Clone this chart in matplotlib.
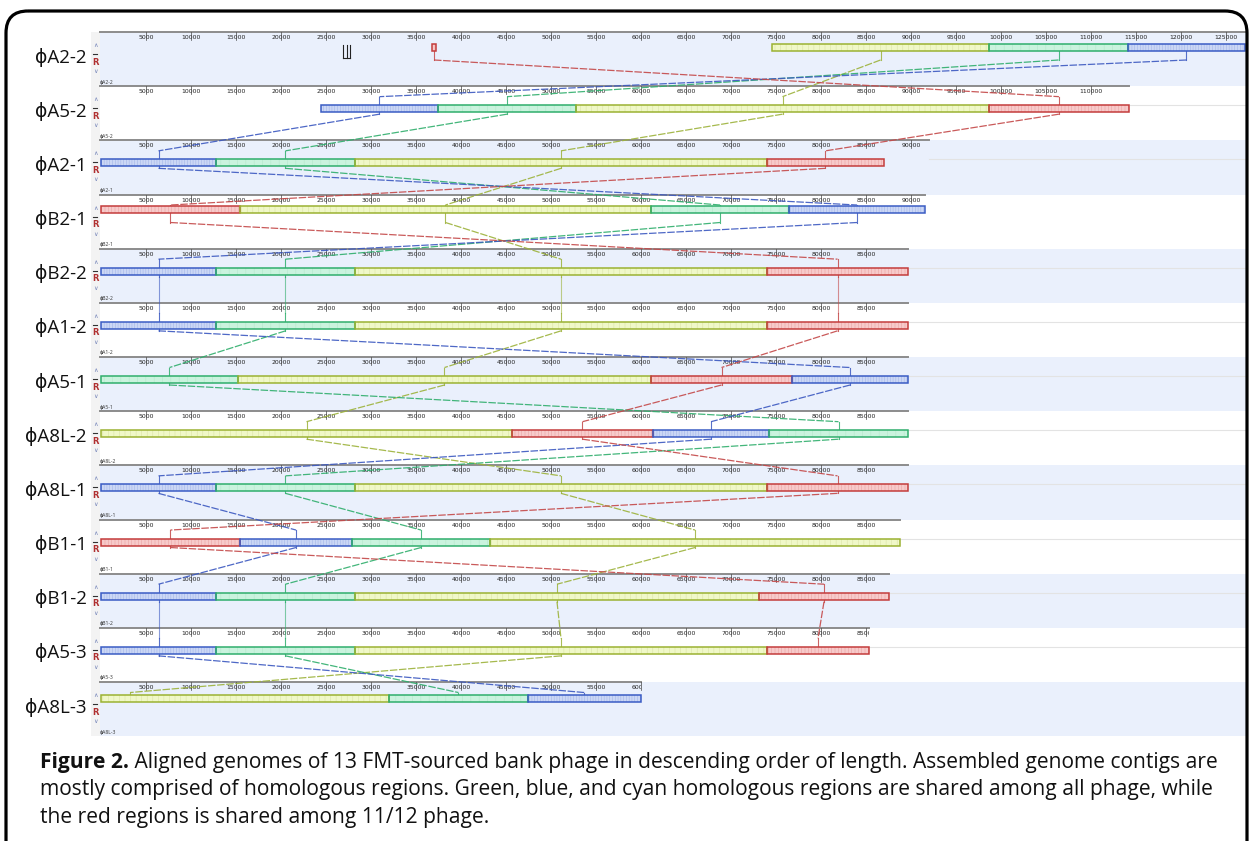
import matplotlib.pyplot as plt
from matplotlib.patches import Rectangle, FancyBboxPatch

# genomes, in the order they are stacked (longest first)
phages = ['ϕA2-2', 'ϕA5-2', 'ϕA2-1', 'ϕB2-1', 'ϕB2-2', 'ϕA1-2', 'ϕA5-1',
          'ϕA8L-2', 'ϕA8L-1', 'ϕB1-1', 'ϕB1-2', 'ϕA5-3', 'ϕA8L-3']
genome_len = [127100, 114200, 92000, 91560, 89670, 89670, 89670,
              89670, 89670, 88780, 87560, 85330, 60000]

# locally collinear blocks per genome: (lcb, start bp, end bp)
blocks = [
    [('R', 36800, 37200), ('Y', 74560, 98670), ('G', 98670, 114110), ('B', 114110, 127100)],
    [('B', 24440, 37440), ('G', 37440, 52780), ('Y', 52780, 98670), ('R', 98670, 114200)],
    [('B', 0, 12780), ('G', 12780, 28220), ('Y', 28220, 74000), ('R', 74000, 87000)],
    [('R', 0, 15440), ('Y', 15440, 61110), ('G', 61110, 76440), ('B', 76440, 91560)],
    [('B', 0, 12780), ('G', 12780, 28220), ('Y', 28220, 74000), ('R', 74000, 89670)],
    [('B', 0, 12780), ('G', 12780, 28220), ('Y', 28220, 74000), ('R', 74000, 89670)],
    [('G', 0, 15220), ('Y', 15220, 61110), ('R', 61110, 76780), ('B', 76780, 89670)],
    [('Y', 0, 45670), ('R', 45670, 61330), ('B', 61330, 74220), ('G', 74220, 89670)],
    [('B', 0, 12780), ('G', 12780, 28220), ('Y', 28220, 74000), ('R', 74000, 89670)],
    [('R', 0, 15440), ('B', 15440, 27890), ('G', 27890, 43220), ('Y', 43220, 88780)],
    [('B', 0, 12780), ('G', 12780, 28220), ('Y', 28220, 73110), ('R', 73110, 87560)],
    [('B', 0, 12780), ('G', 12780, 28220), ('Y', 28220, 74000), ('R', 74000, 85330)],
    [('Y', 0, 32000), ('G', 32000, 47440), ('B', 47440, 60000)],
]
# where a connecting line leaves a block, when it is not the block middle
anchor_bp = {(12, 'Y'): 3220}
# short marks on the first genome
marks_bp = [26900, 27300, 27700]

caption_bold = 'Figure 2.'
caption = [' Aligned genomes of 13 FMT-sourced bank phage in descending order of length. Assembled genome contigs are',
           'mostly comprised of homologous regions. Green, blue, and cyan homologous regions are shared among all phage, while',
           'the red regions is shared among 11/12 phage.']

edge = {'B': '#3a5cc4', 'G': '#2fae6c', 'Y': '#9bb232', 'R': '#c43c3c'}
fill = {'B': '#cbd7f5', 'G': '#caf3de', 'Y': '#f0f8c8', 'R': '#f7caca'}
hatch_c = {'B': '#a3b5e8', 'G': '#b4e8cc', 'Y': '#dbe4a6', 'R': '#e9a3a3'}
link_c = {'B': '#3b58c0', 'G': '#2fae6c', 'Y': '#9cb23a', 'R': '#c44848'}
hatches = {'B': '||||||', 'G': '||', 'Y': '|||', 'R': '|||||'}

plt.rcParams['hatch.linewidth'] = 0.4

fig = plt.figure(figsize=(12.49, 8.41), dpi=100)
ax = fig.add_axes([0, 0, 1, 1])
ax.set_xlim(0, 1249)
ax.set_ylim(841, 0)
ax.axis('off')

x0, scale = 101, 0.009
row_h = 54.17
tops = [32 + row_h * i for i in range(len(phages))]
block_off = [11.5, 19, 19, 11.5, 19, 19, 19, 19, 19, 19, 19, 19, 12.5]
block_h = 7
text_font = ['Open Sans', 'DejaVu Sans']


def bx(bp):
    return x0 + bp * scale


def anchor(i, lcb):
    if (i, lcb) in anchor_bp:
        return bx(anchor_bp[(i, lcb)])
    for c, s, e in blocks[i]:
        if c == lcb:
            return bx((s + e) / 2)
    return None


# panels
for i, name in enumerate(phages):
    top = tops[i]
    bg = '#eaf0fc' if i % 2 == 0 else 'white'
    ax.add_patch(Rectangle((100, top), 1146, row_h, fc=bg, ec='none', zorder=0))
    ax.add_patch(Rectangle((91, top), 9, row_h, fc='#f3f3f3', ec='none', zorder=0))
    xend = bx(genome_len[i])
    if block_off[i] > 15:
        ax.plot([xend, 1246], [top + block_off[i], top + block_off[i]],
                color='#e3e3e3', lw=0.8, zorder=1)
    ax.plot([100, xend], [top, top], color='#8c8c8c', lw=1.4, zorder=2)

    clip = Rectangle((99, top - 1), xend - 99, row_h)
    clip.set_transform(ax.transData)
    for bp in range(5000, genome_len[i] + 5000, 5000):
        x = bx(bp)
        if x > xend + 2:
            continue
        t = ax.text(x, top + 5.5, str(bp), fontsize=4.4, ha='center', va='center',
                    color='#222222', zorder=3, clip_on=True)
        t.set_clip_path(clip)
        if x <= xend:
            ax.plot([x, x], [top, top + 8], color='#444444', lw=0.5, zorder=3)

    ax.text(100, top + 50, name, fontsize=3.6, ha='left', va='center', color='#333333',
            family=text_font, zorder=3)
    # track controls
    ax.text(95.5, top + 13, r'$\wedge$', fontsize=4.5, ha='center', va='center', color='#7383b8')
    ax.plot([93.5, 97.5], [top + 22, top + 22], color='#333333', lw=0.8)
    ax.text(95.5, top + 30, 'R', fontsize=6, ha='center', va='center', color='#b03030',
            fontweight='bold')
    ax.text(95.5, top + 39, r'$\vee$', fontsize=4.5, ha='center', va='center', color='#7383b8')

    ax.text(87, top + 25, name, fontsize=13.5, ha='right', va='center', color='#111111',
            family=text_font)

# connecting lines between neighbouring genomes
for i in range(len(phages) - 1):
    for lcb in 'YGBR':
        xa, xb = anchor(i, lcb), anchor(i + 1, lcb)
        if xa is None or xb is None:
            continue
        y_bot = tops[i] + block_off[i] + block_h
        ya = tops[i] + 28
        yb = tops[i + 1] + 10.5
        y_top = tops[i + 1] + block_off[i + 1]
        c = link_c[lcb]
        ax.plot([xa, xa], [y_bot, ya], color=c, lw=0.8, alpha=0.85, zorder=4)
        if abs(xa - xb) < 0.5:
            ax.plot([xa, xb], [ya, yb], color=c, lw=0.8, alpha=0.6, zorder=4)
        else:
            ax.plot([xa, xb], [ya, yb], color=c, lw=0.9, alpha=0.9, zorder=4,
                    dashes=(6, 1.3))
        ax.plot([xb, xb], [yb, y_top], color=c, lw=0.8, alpha=0.85, zorder=4)

# blocks
for i, row in enumerate(blocks):
    y = tops[i] + block_off[i]
    for lcb, s, e in row:
        xs, xe = bx(s), bx(e)
        ax.add_patch(Rectangle((xs, y), xe - xs, block_h, fc=fill[lcb], ec='none', zorder=5))
        ax.add_patch(Rectangle((xs, y), xe - xs, block_h, fc='none', ec=hatch_c[lcb], lw=0,
                               hatch=hatches[lcb], zorder=5))
        ax.add_patch(Rectangle((xs, y), xe - xs, block_h, fc='none', ec=edge[lcb], lw=1.1,
                               zorder=6))

# marks on the first genome
mx = [bx(b) for b in marks_bp]
for x in mx:
    ax.plot([x, x], [tops[0] + 13, tops[0] + 26], color='#222222', lw=0.8, zorder=6)
ax.plot([mx[0], mx[-1]], [tops[0] + 26, tops[0] + 26], color='#222222', lw=0.8, zorder=6)

# outer frame
ax.add_patch(FancyBboxPatch((6, 11), 1241, 900, boxstyle='round,pad=0,rounding_size=22',
                            fc='none', ec='black', lw=2.3, zorder=10))

# caption
cap_size = 15.1
t1 = ax.text(40, 768, caption_bold, fontsize=cap_size, fontweight='bold', family=text_font,
             ha='left', va='baseline', color='#111111')
fig.canvas.draw()
bb = t1.get_window_extent(fig.canvas.get_renderer())
x_after = ax.transData.inverted().transform((bb.x1, bb.y0))[0]
ax.text(x_after, 768, caption[0], fontsize=cap_size, family=text_font, ha='left', va='baseline',
        color='#111111')
ax.text(40, 795.5, caption[1], fontsize=cap_size, family=text_font, ha='left', va='baseline',
        color='#111111')
ax.text(40, 823, caption[2], fontsize=cap_size, family=text_font, ha='left', va='baseline',
        color='#111111')

fig.savefig('out.png', dpi=100)
